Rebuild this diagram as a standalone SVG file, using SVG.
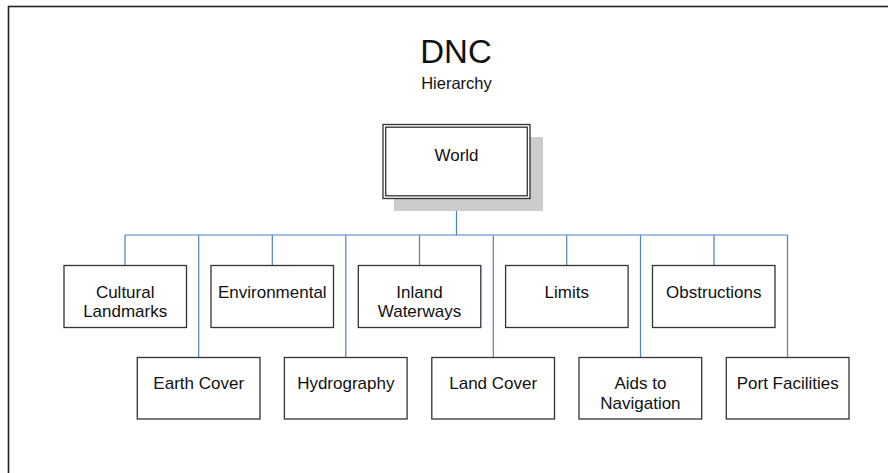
<svg xmlns="http://www.w3.org/2000/svg" width="888" height="473" viewBox="0 0 888 473">
  <style>
    .frame { fill: none; stroke: #222; stroke-width: 1.6; }
    .box { fill: #fff; stroke: #333; stroke-width: 1.3; }
    .shadow { fill: #cccccc; }
    .label { font-family: "Liberation Sans", Arial, sans-serif; font-size: 17px; fill: #111; text-anchor: middle; }
    .title { font-family: "Liberation Sans", Arial, sans-serif; fill: #111; text-anchor: middle; }
    .link { fill: none; stroke: #4f81bd; stroke-width: 1.2; }
  </style>
  <rect width="888" height="473" fill="#fff"/>
  <!-- page frame, runs off the right and bottom edges -->
  <rect class="frame" x="8.5" y="6.5" width="900" height="500"/>

  <g id="title">
    <text class="title" x="456" y="62.5" font-size="33">DNC</text>
    <text class="title" x="456.5" y="88.5" font-size="16.5">Hierarchy</text>
  </g>

  <g id="connectors">
    <path class="link" d="M456.5 198.5 V235 M125 235 H787.5"/>
    <path class="link" d="M125 235 V265.5 M272.3 235 V265.5 M419.5 235 V265.5 M566.7 235 V265.5 M714 235 V265.5"/>
    <path class="link" d="M198.7 235 V357.5 M345.8 235 V357.5 M493.3 235 V357.5 M640.5 235 V357.5 M787.5 235 V357.5"/>
  </g>

  <g id="world">
    <rect class="shadow" x="394" y="137" width="149" height="74"/>
    <rect class="box" x="383" y="124.5" width="147" height="74"/>
    <rect class="box" x="385.7" y="127.2" width="141.6" height="68.6"/>
    <text class="label" x="456.5" y="161" font-size="19.5">World</text>
  </g>

  <g id="cultural-landmarks">
    <rect class="box" x="64" y="265.5" width="122.5" height="62"/>
    <text class="label" x="125.2" y="297.5">Cultural</text>
    <text class="label" x="125.2" y="316.5">Landmarks</text>
  </g>
  <g id="environmental">
    <rect class="box" x="211" y="265.5" width="122.5" height="62"/>
    <text class="label" x="272.3" y="297.5">Environmental</text>
  </g>
  <g id="inland-waterways">
    <rect class="box" x="358.3" y="265.5" width="122.5" height="62"/>
    <text class="label" x="419.5" y="297.5">Inland</text>
    <text class="label" x="419.5" y="316.5">Waterways</text>
  </g>
  <g id="limits">
    <rect class="box" x="505.6" y="265.5" width="122.5" height="62"/>
    <text class="label" x="566.8" y="297.5">Limits</text>
  </g>
  <g id="obstructions">
    <rect class="box" x="652.5" y="265.5" width="122.5" height="62"/>
    <text class="label" x="713.8" y="297.5">Obstructions</text>
  </g>

  <g id="earth-cover">
    <rect class="box" x="137.3" y="357.5" width="122.7" height="61.5"/>
    <text class="label" x="198.7" y="389">Earth Cover</text>
  </g>
  <g id="hydrography">
    <rect class="box" x="284.4" y="357.5" width="122.7" height="61.5"/>
    <text class="label" x="345.8" y="389">Hydrography</text>
  </g>
  <g id="land-cover">
    <rect class="box" x="431.8" y="357.5" width="122.7" height="61.5"/>
    <text class="label" x="493.2" y="389">Land Cover</text>
  </g>
  <g id="aids-to-navigation">
    <rect class="box" x="579" y="357.5" width="122.7" height="61.5"/>
    <text class="label" x="640.4" y="389">Aids to</text>
    <text class="label" x="640.4" y="409">Navigation</text>
  </g>
  <g id="port-facilities">
    <rect class="box" x="726.3" y="357.5" width="122.7" height="61.5"/>
    <text class="label" x="787.7" y="389">Port Facilities</text>
  </g>
</svg>
